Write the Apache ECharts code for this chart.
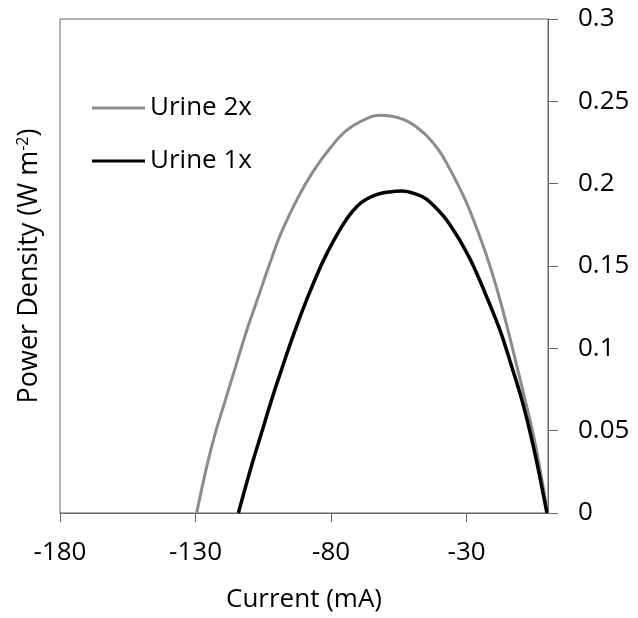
<!DOCTYPE html>
<html>
<head>
<meta charset="utf-8">
<script src="https://cdn.jsdelivr.net/npm/echarts@6/dist/echarts.min.js"></script>
<style>
  html, body { margin: 0; padding: 0; background: #fff; }
  #chart { width: 638px; height: 618px; }
</style>
</head>
<body>
<div id="chart"></div>
<script>
// Urine 2x (grey)
const urine2xCurrent = [-129.6, -125.9, -122.8, -119.1, -115.4, -111.1, -106.5, -102.3, -98.2, -92.1, -86.6, -80.4, -74.2, -66.9, -62.0, -53.4, -46.0, -40.5, -36.8, -30.6, -25.7, -21.4, -17.8, -14.6, -11.6, -8.5, -5.6, -3.2, -0.2];
const urine2xPower = [0, 0.028, 0.048, 0.068, 0.088, 0.111, 0.133, 0.153, 0.171, 0.192, 0.2075, 0.2215, 0.2325, 0.2395, 0.2415, 0.239, 0.231, 0.2208, 0.2107, 0.1905, 0.1703, 0.150, 0.130, 0.110, 0.090, 0.069, 0.049, 0.029, 0];

// Urine 1x (black)
const urine1xCurrent = [-114.2, -109.3, -105.6, -101.9, -97.9, -93.5, -88.9, -83.8, -80.8, -77.5, -73.6, -70.3, -67.0, -63.0, -58.5, -54.0, -48.4, -44.7, -38.6, -34.3, -30.6, -27.5, -22.3, -17.5, -13.4, -9.7, -6.6, -3.9, -0.4];
const urine1xPower = [0, 0.029, 0.049, 0.069, 0.089, 0.110, 0.130, 0.150, 0.160, 0.170, 0.180, 0.1865, 0.1905, 0.1935, 0.195, 0.1955, 0.1935, 0.1905, 0.1804, 0.1703, 0.160, 0.150, 0.130, 0.110, 0.089, 0.069, 0.049, 0.029, 0];

const xTicks = [-180, -130, -80, -30];

const font = '"Open Sans", sans-serif';
const axisColor = '#666666';

function pairs(xs, ys) {
  return xs.map((x, i) => [x, ys[i]]);
}

const chart = echarts.init(document.getElementById('chart'));

const option = {
  animation: false,
  grid: { // plot area box
    left: 60,
    right: 90,
    top: 19,
    bottom: 104,
    show: true,
    borderColor: axisColor,
    borderWidth: 1,
  },
  legend: {
    orient: 'vertical',
    left: 92,
    top: 93,
    padding: 0,
    icon: 'rect',
    itemWidth: 53,
    itemHeight: 3,
    itemGap: 23,
    data: ['Urine 2x', 'Urine 1x'],
    textStyle: {
      fontFamily: font,
      fontSize: 26,
      lineHeight: 30,
      color: '#000',
    },
  },
  xAxis: {
    type: 'value',
    min: -180,
    max: 0,
    interval: 50,
    name: 'Current (mA)',
    nameLocation: 'middle',
    nameGap: 74,
    nameTextStyle: { fontFamily: font, fontSize: 26, color: '#000' },
    axisLine: { show: true, onZero: false, lineStyle: { color: axisColor, width: 1 } },
    axisTick: { show: true, length: 9, customValues: xTicks, lineStyle: { color: axisColor } },
    axisLabel: { customValues: xTicks, margin: 27, fontFamily: font, fontSize: 26, color: '#000' },
    splitLine: { show: false },
  },
  yAxis: [
    {
      type: 'value',
      position: 'right',
      min: 0,
      max: 0.3,
      interval: 0.05,
      axisLine: { show: true, lineStyle: { color: axisColor, width: 1 } },
      axisTick: { show: true, length: 10, lineStyle: { color: axisColor } },
      axisLabel: { margin: 30, fontFamily: font, fontSize: 26, color: '#000' },
      splitLine: { show: false },
    },
    { // left side only carries the title
      type: 'value',
      position: 'left',
      min: 0,
      max: 0.3,
      name: 'Power Density (W m{sup|-2})',
      nameLocation: 'middle',
      nameGap: 17,
      nameTextStyle: {
        fontFamily: font,
        fontSize: 27,
        color: '#000',
        rich: {
          sup: { fontFamily: font, fontSize: 16, verticalAlign: 'top', padding: [0, 0, 12, 0] },
        },
      },
      axisLine: { show: false },
      axisTick: { show: false },
      axisLabel: { show: false },
      splitLine: { show: false },
    },
  ],
  series: [
    {
      name: 'Urine 2x',
      type: 'line',
      showSymbol: false,
      symbol: 'none',
      smooth: 0.4,
      itemStyle: { color: '#8c8c8c' },
      lineStyle: { color: '#8c8c8c', width: 3 },
      data: pairs(urine2xCurrent, urine2xPower),
    },
    {
      name: 'Urine 1x',
      type: 'line',
      showSymbol: false,
      symbol: 'none',
      smooth: 0.4,
      itemStyle: { color: '#000000' },
      lineStyle: { color: '#000000', width: 3.5 },
      data: pairs(urine1xCurrent, urine1xPower),
    },
  ],
};

chart.setOption(option);
</script>
</body>
</html>
